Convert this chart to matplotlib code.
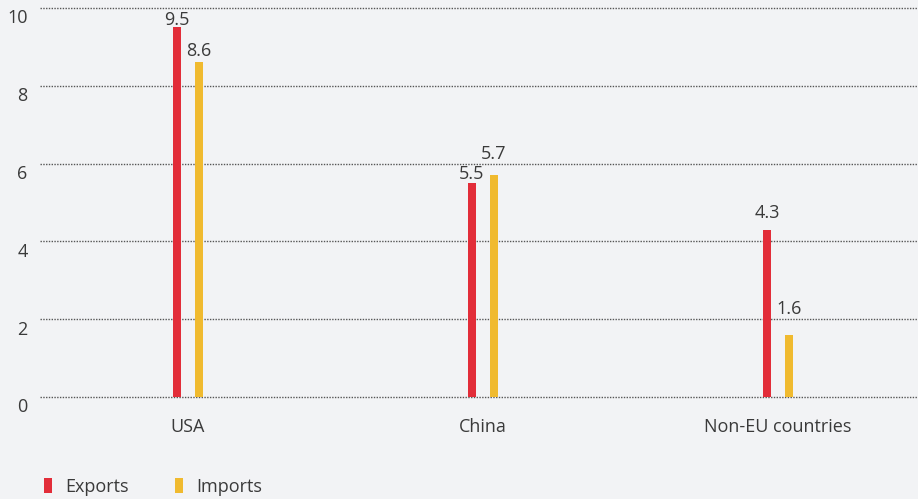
import matplotlib
matplotlib.use("Agg")
import matplotlib.pyplot as plt
from matplotlib.patches import Patch
from matplotlib.transforms import ScaledTranslation
import numpy as np

categories = ["USA", "China", "Non-EU countries"]
exports = [9.5, 5.5, 4.3]
imports = [8.6, 5.7, 1.6]
yticks = [0, 2, 4, 6, 8, 10]

# vertical lift of each value label above its bar, in points
exports_lift = [1.5, 3, 8.5]
imports_lift = [5, 11.5, 15]

RED = "#e22d39"
YELLOW = "#f0ba2f"
BG = "#f2f3f5"
TXT = "#3a3a3a"
FS = 13

plt.rcParams["font.family"] = ["Open Sans", "DejaVu Sans"]

fig = plt.figure(figsize=(9.18, 4.99), dpi=100, facecolor=BG)
ax = fig.add_axes([40 / 918, 1 - 397 / 499, 878 / 918, (397 - 8) / 499])
ax.set_facecolor(BG)

x = np.arange(len(categories))
px = 295.0  # pixels per category unit
w = 8 / px
off = 11 / px

b1 = ax.bar(x - off, exports, width=w, color=RED, zorder=3)
b2 = ax.bar(x + off, imports, width=w, color=YELLOW, zorder=3)

for bars, vals, lifts in ((b1, exports, exports_lift), (b2, imports, imports_lift)):
    for r, v, lift in zip(bars, vals, lifts):
        ax.annotate(f"{v:.1f}", (r.get_x() + r.get_width() / 2, v),
                    xytext=(0, lift), textcoords="offset points",
                    ha="center", va="baseline", fontsize=FS, color=TXT)

ax.set_xlim(-148 / px, 2 + 140 / px)
ax.set_ylim(0, 10)
ax.set_yticks(yticks)
ax.set_yticklabels([str(t) for t in yticks])
ax.set_xticks(x)
ax.set_xticklabels(categories)

ax.grid(axis="y", linestyle=(0, (1, 1)), color="#555555", linewidth=1, zorder=0)
for gl in ax.get_ygridlines():
    gl.set_clip_on(False)
ax.set_axisbelow(True)
for s in ax.spines.values():
    s.set_visible(False)

ax.tick_params(axis="y", length=0, pad=9, labelsize=FS, labelcolor=TXT)
ax.tick_params(axis="x", length=0, pad=15, labelsize=FS, labelcolor=TXT)

shift = ScaledTranslation(0, -8.5 / 100, fig.dpi_scale_trans)
for lbl in ax.get_yticklabels():
    lbl.set_transform(lbl.get_transform() + shift)

handles = [Patch(facecolor=RED, edgecolor="none", label="Exports"),
           Patch(facecolor=YELLOW, edgecolor="none", label="Imports")]
fig.legend(handles=handles, loc="center left",
           bbox_to_anchor=(44 / 918, 1 - 487 / 499), ncol=2, frameon=False,
           fontsize=FS, labelcolor=TXT, handlelength=0.44, handleheight=0.9,
           handletextpad=0.72, columnspacing=2.6, borderpad=0, borderaxespad=0)

fig.savefig("out.png", dpi=100, facecolor=BG)
